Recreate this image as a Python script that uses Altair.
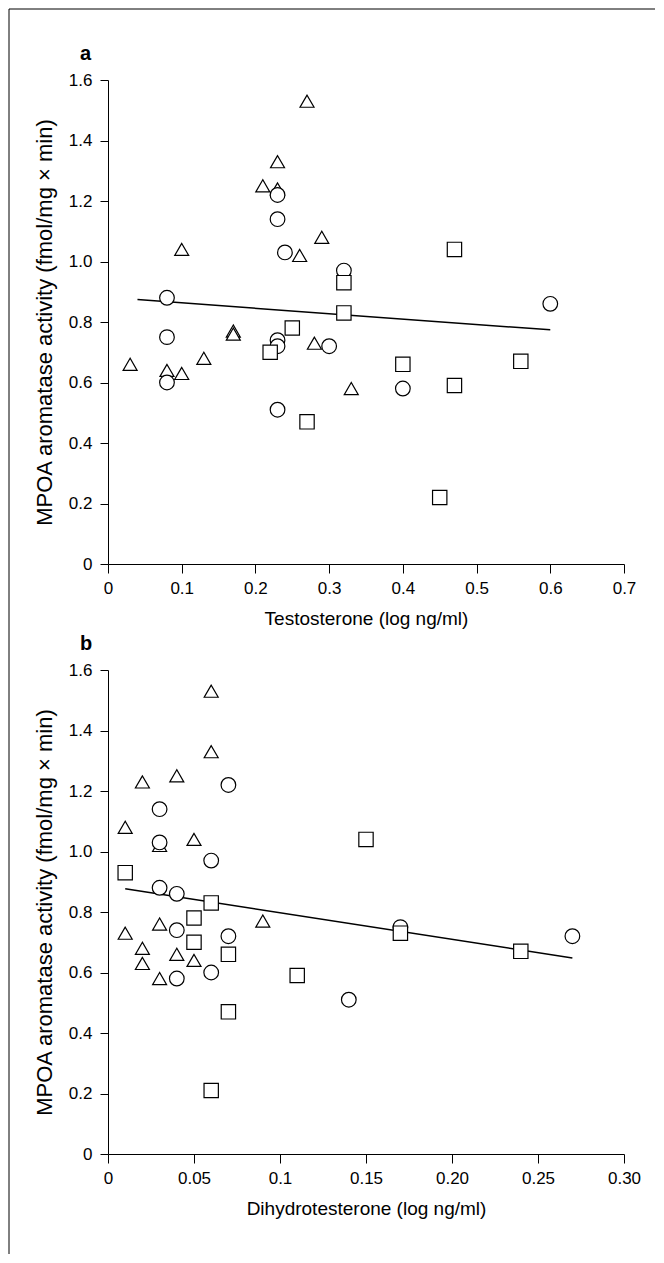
import altair as alt
import pandas as pd

# ---------------- Panel a: Testosterone ----------------
a_tri_x = [0.27, 0.23, 0.21, 0.23, 0.29, 0.26, 0.10, 0.17, 0.17, 0.28, 0.13, 0.03, 0.08, 0.10, 0.33]
a_tri_y = [1.53, 1.33, 1.25, 1.24, 1.08, 1.02, 1.04, 0.77, 0.76, 0.73, 0.68, 0.66, 0.64, 0.63, 0.58]
a_cir_x = [0.23, 0.23, 0.24, 0.08, 0.32, 0.08, 0.23, 0.23, 0.30, 0.08, 0.40, 0.23, 0.60]
a_cir_y = [1.22, 1.14, 1.03, 0.88, 0.97, 0.75, 0.74, 0.72, 0.72, 0.60, 0.58, 0.51, 0.86]
a_sq_x = [0.32, 0.32, 0.25, 0.22, 0.40, 0.27, 0.45, 0.47, 0.47, 0.56]
a_sq_y = [0.93, 0.83, 0.78, 0.70, 0.66, 0.47, 0.22, 1.04, 0.59, 0.67]
a_line_x = [0.04, 0.60]
a_line_y = [0.874, 0.774]
a_xticks = [0, 0.1, 0.2, 0.3, 0.4, 0.5, 0.6, 0.7]
a_xlabels = ["0", "0.1", "0.2", "0.3", "0.4", "0.5", "0.6", "0.7"]

# ---------------- Panel b: Dihydrotestosterone ----------------
b_tri_x = [0.06, 0.06, 0.02, 0.04, 0.01, 0.03, 0.05, 0.09, 0.03, 0.01, 0.02, 0.04, 0.05, 0.02, 0.03]
b_tri_y = [1.53, 1.33, 1.23, 1.25, 1.08, 1.02, 1.04, 0.77, 0.76, 0.73, 0.68, 0.66, 0.64, 0.63, 0.58]
b_cir_x = [0.07, 0.03, 0.03, 0.06, 0.03, 0.04, 0.04, 0.07, 0.06, 0.04, 0.14, 0.17, 0.27]
b_cir_y = [1.22, 1.14, 1.03, 0.97, 0.88, 0.86, 0.74, 0.72, 0.60, 0.58, 0.51, 0.75, 0.72]
b_sq_x = [0.01, 0.06, 0.05, 0.05, 0.07, 0.11, 0.07, 0.06, 0.15, 0.17, 0.24]
b_sq_y = [0.93, 0.83, 0.78, 0.70, 0.66, 0.59, 0.47, 0.21, 1.04, 0.73, 0.67]
b_line_x = [0.01, 0.27]
b_line_y = [0.877, 0.648]
b_xticks = [0, 0.05, 0.1, 0.15, 0.2, 0.25, 0.3]
b_xlabels = ["0", "0.05", "0.1", "0.15", "0.20", "0.25", "0.30"]

y_ticks = [0, 0.2, 0.4, 0.6, 0.8, 1.0, 1.2, 1.4, 1.6]
y_labels = ["0", "0.2", "0.4", "0.6", "0.8", "1.0", "1.2", "1.4", "1.6"]

y_title = "MPOA aromatase activity (fmol/mg \u00d7 min)"
a_xtitle = "Testosterone (log ng/ml)"
b_xtitle = "Dihydrotesterone (log ng/ml)"
panel_letters = ["a", "b"]

FONT = "Liberation Sans"
W, H = 516, 484


def points_df(tx, ty, cx, cy, sx, sy):
    rows = []
    for x, y in zip(tx, ty):
        rows.append({"x": x, "y": y, "g": "triangle"})
    for x, y in zip(cx, cy):
        rows.append({"x": x, "y": y, "g": "circle"})
    for x, y in zip(sx, sy):
        rows.append({"x": x, "y": y, "g": "square"})
    return pd.DataFrame(rows)


def label_expr(labels, step):
    arr = "[" + ",".join("'%s'" % s for s in labels) + "]"
    return "%s[round(datum.value/%s)]" % (arr, step)


def panel(df, line_x, line_y, xmax, xticks, xlabels, xstep, xtitle, letter, frame=False):
    xscale = alt.Scale(domain=[0, xmax], nice=False, zero=True)
    yscale = alt.Scale(domain=[0, 1.6], nice=False)
    xaxis = alt.Axis(
        values=xticks, labelExpr=label_expr(xlabels, xstep), title=xtitle,
        grid=False, tickSize=9, labelPadding=7, labelFlush=False, labelOverlap=False,
        labelFont=FONT, labelFontSize=17, labelColor="black",
        titleFont=FONT, titleFontSize=19, titleFontWeight="normal", titleColor="black",
        titleX=W / 2, titleY=54, titleBaseline="middle", titleAlign="center",
        domainColor="black", tickColor="black", domainWidth=1, tickWidth=1,
    )
    yaxis = alt.Axis(
        values=y_ticks, labelExpr=label_expr(y_labels, 0.2), title=y_title,
        grid=False, tickSize=8, labelPadding=8, labelFlush=False, labelOverlap=False,
        labelFont=FONT, labelFontSize=17, labelColor="black",
        titleFont=FONT, titleFontSize=22, titleFontWeight="normal", titleColor="black",
        titleX=-64, titleY=H / 2, titleBaseline="middle", titleAlign="center", titleAngle=270,
        domainColor="black", tickColor="black", domainWidth=1, tickWidth=1,
    )
    line_df = pd.DataFrame({"x": line_x, "y": line_y})
    line = alt.Chart(line_df).mark_line(color="black", strokeWidth=1.5).encode(
        x=alt.X("x:Q", scale=xscale, axis=xaxis),
        y=alt.Y("y:Q", scale=yscale, axis=yaxis),
    )
    pts = alt.Chart(df).mark_point(
        filled=True, fill="white", stroke="black", strokeWidth=1.2, opacity=1
    ).encode(
        x=alt.X("x:Q", scale=xscale, axis=xaxis),
        y=alt.Y("y:Q", scale=yscale, axis=yaxis),
        shape=alt.Shape("g:N", scale=alt.Scale(domain=["circle", "square", "triangle"],
                                               range=["circle", "square", "triangle-up"]), legend=None),
        size=alt.Size("g:N", scale=alt.Scale(domain=["circle", "square", "triangle"],
                                             range=[215, 196, 280]), legend=None),
    )
    ldf = pd.DataFrame({"t": [letter]})
    lab = alt.Chart(ldf).mark_text(
        font=FONT, fontSize=20, fontWeight="bold", color="black",
        align="left", baseline="alphabetic"
    ).encode(x=alt.value(-28), y=alt.value(-20), text="t:N")
    layers = [line, pts, lab]
    if frame:
        fdf = pd.DataFrame({"k": [0]})
        left = alt.Chart(fdf).mark_rule(color="black", strokeWidth=1).encode(
            x=alt.value(-99), y=alt.value(-71), y2=alt.value(1174))
        top = alt.Chart(fdf).mark_rule(color="black", strokeWidth=1).encode(
            x=alt.value(-99), x2=alt.value(547), y=alt.value(-71))
        layers += [left, top]
    return alt.layer(*layers).properties(width=W, height=H)


dfa = points_df(a_tri_x, a_tri_y, a_cir_x, a_cir_y, a_sq_x, a_sq_y)
dfb = points_df(b_tri_x, b_tri_y, b_cir_x, b_cir_y, b_sq_x, b_sq_y)

pa = panel(dfa, a_line_x, a_line_y, 0.7, a_xticks, a_xlabels, 0.1, a_xtitle, panel_letters[0], frame=True)
pb = panel(dfb, b_line_x, b_line_y, 0.3, b_xticks, b_xlabels, 0.05, b_xtitle, panel_letters[1])

chart = alt.vconcat(
    pa, pb, spacing=106, bounds="flush", padding=0
).configure(background="white").configure_view(stroke=None)

chart.save("out.html", embed_options={"renderer": "svg", "actions": False})
